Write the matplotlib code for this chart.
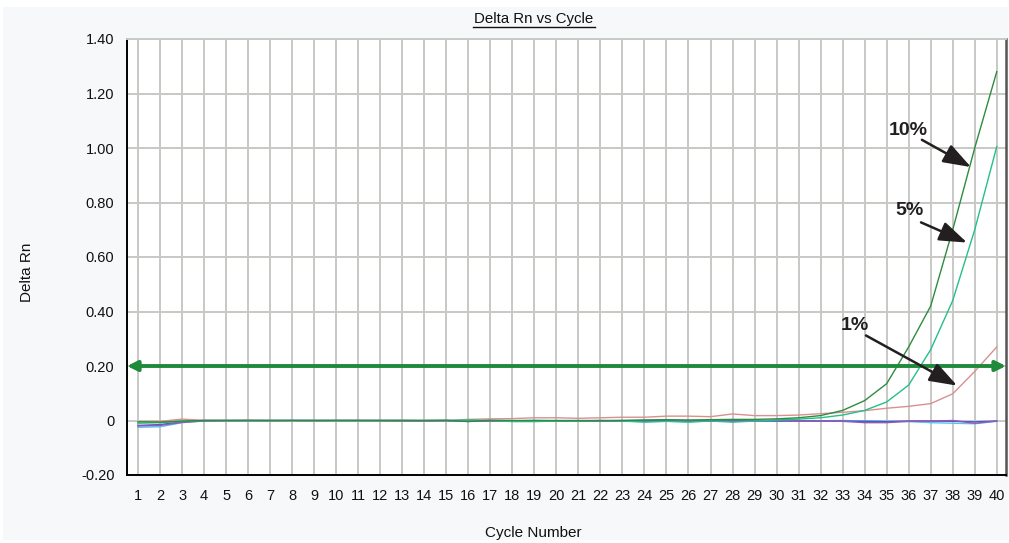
import numpy as np
import matplotlib
matplotlib.use("Agg")
import matplotlib.pyplot as plt
from matplotlib.patches import Rectangle
from matplotlib.lines import Line2D

cycles = list(range(1, 41))

rn_10pct = [-0.005, -0.006, -0.002, 0, 0, 0, 0, 0, 0, 0, 0, 0, 0, 0, 0.001, -0.004, 0.001, 0, 0, 0,
            0, 0, 0, 0.002, 0.003, 0.002, 0.003, 0.004, 0.004, 0.006, 0.01, 0.018, 0.037, 0.073, 0.135,
            0.27, 0.42, 0.70, 1.00, 1.28]
rn_5pct = [-0.01, -0.008, -0.003, 0, 0, 0, 0, 0, 0, 0, 0, 0, 0, 0, 0, 0.002, 0, -0.004, -0.004, -0.002,
           -0.002, 0, -0.002, -0.006, -0.003, -0.006, -0.002, -0.006, -0.002, 0.002, 0.005, 0.01, 0.02,
           0.037, 0.068, 0.13, 0.26, 0.44, 0.70, 1.005]
rn_1pct = [-0.004, -0.003, 0.005, 0.001, 0, 0.001, 0, -0.001, 0, 0, 0, 0, 0, 0, 0, 0.004, 0.006, 0.007,
           0.01, 0.01, 0.008, 0.01, 0.012, 0.012, 0.016, 0.016, 0.014, 0.024, 0.018, 0.018, 0.02, 0.025,
           0.03, 0.036, 0.045, 0.052, 0.062, 0.098, 0.18, 0.27]
rn_ntc_sky = [-0.025, -0.023, -0.008, -0.001, 0, -0.001, 0, 0, 0, -0.001, -0.001, 0, 0, 0, 0, -0.003,
              -0.002, -0.002, -0.003, -0.002, -0.002, -0.001, -0.002, -0.004, -0.003, -0.004, -0.002,
              -0.002, -0.003, -0.002, -0.001, -0.001, 0, -0.002, -0.003, -0.004, -0.008, -0.01, -0.012, -0.003]
rn_ntc_purple = [-0.02, -0.018, -0.007, -0.002, -0.001, 0, -0.001, 0, -0.001, 0, 0, -0.001, -0.002,
                 -0.002, -0.001, 0, -0.002, -0.001, -0.001, -0.002, -0.003, -0.002, -0.002, -0.003,
                 -0.002, -0.001, -0.001, -0.002, -0.001, 0, -0.001, -0.002, -0.003, -0.008, -0.008,
                 -0.003, -0.002, 0.0, -0.01, -0.002]
rn_ntc_blue = [-0.018, -0.015, -0.005, 0, 0, 0, 0, 0, 0, 0, 0, 0, 0, -0.001, -0.001, -0.001, -0.001,
               -0.001, 0, -0.001, -0.001, -0.001, 0, 0, 0, -0.002, -0.002, -0.001, -0.001, -0.002, -0.002,
               -0.002, -0.002, -0.003, -0.004, -0.002, -0.002, -0.003, -0.005, -0.002]
threshold = 0.2

y_ticks = [-0.2, 0, 0.2, 0.4, 0.6, 0.8, 1.0, 1.2, 1.4]
y_tick_labels = ["-0.20", "0", "0.20", "0.40", "0.60", "0.80", "1.00", "1.20", "1.40"]

FONT = ["Liberation Sans", "DejaVu Sans"]
plt.rcParams['font.family'] = FONT

W, H = 1009, 543
fig = plt.figure(figsize=(W / 100, H / 100), dpi=100, facecolor="white")
fig.patches.append(Rectangle((3 / W, (H - 540) / H), (1008 - 3) / W, (540 - 7) / H,
                             transform=fig.transFigure, facecolor="#f7f8fa", edgecolor="none", zorder=-10))

L, R, T, B = 127, 1006, 39, 475
ax = fig.add_axes([L / W, (H - B) / H, (R - L) / W, (B - T) / H])
ax.set_zorder(1)
ax.set_facecolor("white")
ax.set_xlim(0.5, 40.42)
ax.set_ylim(-0.2, 1.4)

ax.set_xticks(cycles)
ax.set_xticklabels([str(c) for c in cycles], fontsize=10.5)
ax.set_yticks(y_ticks)
ax.set_yticklabels(y_tick_labels, fontsize=10.5)
ax.tick_params(axis="both", length=0, colors="#111111")
ax.tick_params(axis="x", pad=10)
ax.tick_params(axis="y", pad=9)
ax.grid(True, color="#c8c8c4", linewidth=1.4)
ax.set_axisbelow(True)
for side in ["left", "bottom"]:
    ax.spines[side].set_color("black")
    ax.spines[side].set_linewidth(1.4)
ax.spines["right"].set_color("#555555")
ax.spines["right"].set_linewidth(1.8)
ax.spines["top"].set_color("#c8c8c4")
ax.spines["top"].set_linewidth(1.4)

lw = 1.0
ax.plot(cycles, rn_ntc_sky, color="#55c4ee", lw=lw, zorder=3)
ax.plot(cycles, rn_ntc_blue, color="#3a5fcd", lw=lw, zorder=3)
ax.plot(cycles, rn_ntc_purple, color="#9a55b5", lw=lw, zorder=3)
ax.plot(cycles, rn_1pct, color="#d99090", lw=lw, zorder=3)
ax.plot(cycles, rn_5pct, color="#22c08a", lw=lw, zorder=3)
ax.plot(cycles, rn_10pct, color="#2e8b40", lw=lw, zorder=3)

ax.annotate("", xy=(0.5, threshold), xytext=(40.42, threshold), xycoords="data",
            arrowprops=dict(arrowstyle="<|-|>,head_length=0.6,head_width=0.3", color="#1f8a3a",
                            lw=2.8, shrinkA=0, shrinkB=0), zorder=4, annotation_clip=False)

arrow_kw = dict(arrowstyle="-|>,head_length=0.85,head_width=0.3", color="#231f20", lw=1.8,
                shrinkA=0, shrinkB=0, mutation_scale=20)
labels = [("10%", (35.97, 1.064), (36.6, 1.03), (38.83, 0.93)),
          ("5%", (36.06, 0.77), (36.56, 0.727), (38.65, 0.653)),
          ("1%", (33.56, 0.349), (34.06, 0.312), (38.2, 0.128))]
for txt, tpos, tail, head in labels:
    ax.text(tpos[0], tpos[1], txt, fontsize=14, fontweight="bold", color="#231f20",
            ha="center", va="center", zorder=6)
    ax.annotate("", xy=head, xytext=tail, arrowprops=arrow_kw, zorder=6)

fig.text(533.5 / W, 1 - 19 / H, "Delta Rn vs Cycle", fontsize=10.8, ha="center", va="center", color="#111111")
fig.add_artist(Line2D([472.5 / W, 594.5 / W], [1 - 27 / H, 1 - 27 / H], color="#111111", lw=1.0,
                      transform=fig.transFigure))
fig.text(533.5 / W, 1 - 533 / H, "Cycle Number", fontsize=11, ha="center", va="center", color="#111111")
fig.text(27 / W, 1 - 272 / H, "Delta Rn", fontsize=11, ha="center", va="center", rotation=90, color="#111111")

fig.savefig("out.png", dpi=100, facecolor=fig.get_facecolor())
